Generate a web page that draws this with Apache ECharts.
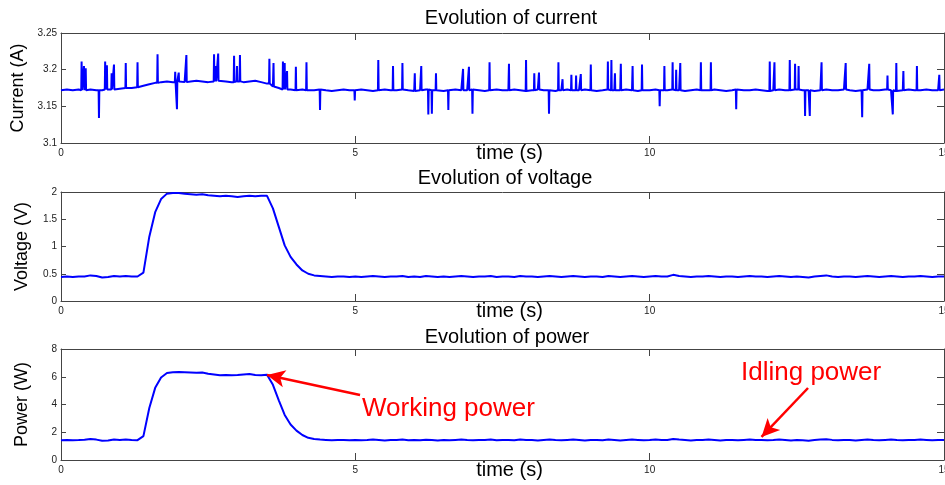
<!DOCTYPE html>
<html>
<head>
<meta charset="utf-8">
<script src="https://cdn.jsdelivr.net/npm/echarts@6/dist/echarts.min.js"></script>
<style>
  html, body { margin: 0; padding: 0; background: #fff; }
  #chart { width: 945px; height: 485px; }
</style>
</head>
<body>
<div id="chart"></div>
<script>
// sample grid, 0.1 s steps from 0 to 15 s
const time = Array.from({length: 151}, (_, i) => +(i / 10).toFixed(1));

// current baseline (A), one value per sample
const currentBase = [
  3.172,3.173,3.172,3.173,3.172,3.173,3.172,3.172,3.173,3.173,
  3.174,3.175,3.175,3.176,3.178,3.180,3.182,3.183,3.184,3.183,
  3.184,3.183,3.184,3.185,3.184,3.183,3.184,3.185,3.184,3.183,
  3.184,3.183,3.184,3.185,3.183,3.181,3.177,3.175,3.173,3.173,
  3.172,3.173,3.172,3.172,3.173,3.172,3.171,3.172,3.173,3.172,
  3.172,3.173,3.172,3.171,3.172,3.173,3.172,3.172,3.173,3.172,
  3.171,3.172,3.173,3.172,3.172,3.171,3.172,3.173,3.172,3.172,
  3.173,3.172,3.171,3.172,3.173,3.172,3.172,3.173,3.172,3.171,
  3.172,3.173,3.172,3.172,3.171,3.172,3.173,3.172,3.172,3.173,
  3.172,3.171,3.172,3.173,3.172,3.172,3.173,3.172,3.171,3.172,
  3.172,3.173,3.172,3.172,3.173,3.172,3.171,3.172,3.173,3.172,
  3.172,3.173,3.172,3.171,3.172,3.173,3.172,3.172,3.173,3.172,
  3.171,3.172,3.173,3.172,3.172,3.173,3.172,3.172,3.171,3.172,
  3.173,3.172,3.172,3.173,3.172,3.171,3.172,3.173,3.172,3.172,
  3.173,3.172,3.171,3.172,3.173,3.172,3.172,3.173,3.172,3.172,
  3.173
];

// narrow current spikes and dips: [time (s), extreme value (A)]
const currentSpikes = [
  [0.35,3.211],[0.39,3.205],[0.42,3.202],[0.645,3.134],[0.75,3.211],[0.78,3.206],
  [0.86,3.195],[0.90,3.207],[1.10,3.209],[1.30,3.210],[1.64,3.221],[1.94,3.197],
  [1.97,3.146],[2.00,3.196],[2.13,3.220],[2.60,3.221],[2.63,3.205],[2.67,3.222],
  [2.94,3.219],[2.99,3.205],[3.04,3.220],[3.54,3.215],[3.61,3.209],[3.77,3.211],
  [3.80,3.209],[3.84,3.198],[3.99,3.204],[4.17,3.210],[4.40,3.145],[4.99,3.158],
  [5.39,3.213],[5.64,3.205],[5.80,3.209],[6.01,3.195],[6.12,3.205],[6.24,3.139],
  [6.30,3.140],[6.37,3.195],[6.58,3.145],[6.83,3.201],[6.93,3.204],[6.99,3.140],
  [7.28,3.210],[7.61,3.208],[7.90,3.213],[8.04,3.195],[8.12,3.196],[8.29,3.140],
  [8.45,3.210],[8.52,3.187],[8.67,3.193],[8.75,3.192],[8.83,3.194],[9.00,3.207],
  [9.29,3.211],[9.35,3.213],[9.41,3.195],[9.51,3.208],[9.71,3.205],[9.87,3.207],
  [10.17,3.150],[10.25,3.205],[10.39,3.210],[10.45,3.200],[10.52,3.209],[10.87,3.210],
  [11.04,3.210],[11.47,3.146],[12.04,3.211],[12.12,3.210],[12.38,3.213],[12.47,3.208],
  [12.53,3.205],[12.64,3.137],[12.72,3.137],[12.92,3.210],[13.33,3.209],[13.61,3.135],
  [13.73,3.208],[14.04,3.192],[14.13,3.139],[14.19,3.209],[14.31,3.198],[14.54,3.205],
  [14.92,3.193]
];

// voltage (V)
const voltage = [
  0.44,0.45,0.44,0.45,0.45,0.47,0.46,0.43,0.44,0.46,
  0.45,0.46,0.45,0.45,0.52,1.18,1.63,1.87,1.97,1.98,
  1.98,1.97,1.96,1.95,1.96,1.94,1.93,1.92,1.93,1.92,
  1.91,1.92,1.93,1.92,1.93,1.93,1.70,1.36,1.02,0.81,
  0.67,0.56,0.50,0.47,0.46,0.45,0.44,0.45,0.45,0.44,
  0.45,0.44,0.45,0.46,0.45,0.44,0.45,0.45,0.46,0.44,
  0.45,0.44,0.46,0.45,0.44,0.45,0.44,0.45,0.46,0.45,
  0.44,0.45,0.45,0.46,0.44,0.45,0.45,0.44,0.46,0.45,
  0.45,0.44,0.45,0.46,0.45,0.44,0.45,0.46,0.45,0.44,
  0.45,0.45,0.44,0.46,0.45,0.44,0.45,0.46,0.45,0.44,
  0.45,0.46,0.45,0.45,0.48,0.46,0.45,0.44,0.45,0.45,
  0.46,0.45,0.44,0.45,0.45,0.44,0.45,0.46,0.45,0.45,
  0.44,0.45,0.46,0.45,0.44,0.45,0.44,0.43,0.45,0.46,
  0.47,0.45,0.44,0.45,0.45,0.44,0.45,0.46,0.45,0.44,
  0.45,0.46,0.45,0.44,0.45,0.45,0.46,0.45,0.44,0.45,
  0.45
];

// power (W)
const power = [
  1.42,1.45,1.43,1.44,1.46,1.52,1.47,1.38,1.40,1.47,
  1.45,1.48,1.45,1.43,1.72,3.75,5.20,5.95,6.27,6.33,
  6.34,6.32,6.30,6.28,6.30,6.22,6.16,6.10,6.12,6.10,
  6.12,6.17,6.20,6.12,6.10,6.15,5.42,4.30,3.25,2.56,
  2.12,1.80,1.60,1.52,1.47,1.45,1.43,1.45,1.44,1.42,
  1.45,1.42,1.44,1.47,1.44,1.41,1.44,1.45,1.47,1.42,
  1.45,1.42,1.46,1.44,1.41,1.45,1.43,1.45,1.47,1.44,
  1.42,1.45,1.44,1.47,1.42,1.45,1.44,1.42,1.47,1.45,
  1.44,1.41,1.45,1.47,1.44,1.42,1.45,1.47,1.44,1.41,
  1.45,1.44,1.42,1.47,1.45,1.41,1.44,1.47,1.45,1.42,
  1.44,1.47,1.45,1.44,1.52,1.47,1.44,1.41,1.44,1.45,
  1.47,1.44,1.41,1.45,1.44,1.42,1.45,1.47,1.44,1.45,
  1.42,1.44,1.47,1.45,1.41,1.44,1.42,1.39,1.44,1.47,
  1.50,1.45,1.42,1.44,1.45,1.41,1.44,1.47,1.44,1.42,
  1.45,1.47,1.44,1.42,1.45,1.44,1.47,1.45,1.42,1.44,
  1.45
];

// annotation arrows in data coordinates of the power panel: [tail, tip]
const workingArrow = [[5.08, 4.68], [3.50, 6.13]];
const idlingArrow = [[12.69, 5.19], [11.90, 1.66]];

const FONT = 'Liberation Sans, Arial, sans-serif';
const AXIS_COLOR = '#444';

// spikes are drawn as a rise from the local baseline and a drop back to it
const currentPoints = () => {
  const pts = time.map((t, i) => [t, currentBase[i]]);
  currentSpikes.forEach(([t, v]) => {
    const b = currentBase[Math.round(t * 10)];
    pts.push([t - 0.006, b], [t, v], [t + 0.006, b]);
  });
  return pts.sort((a, b) => a[0] - b[0]);
};

const fmt = v => String(Math.round(v * 100) / 100);

const makeX = (gridIndex) => [
  {
    type: 'value', gridIndex, min: 0, max: 15, interval: 5, position: 'bottom',
    axisLine: {onZero: false, lineStyle: {color: AXIS_COLOR}},
    axisTick: {inside: true, length: 7, lineStyle: {color: AXIS_COLOR}},
    axisLabel: {fontSize: 10, color: '#222', margin: 5, fontFamily: FONT},
    splitLine: {show: false},
    name: 'time (s)', nameLocation: 'middle', nameGap: 0, nameMoveOverlap: false,
    nameTextStyle: {fontSize: 20, color: '#000', fontFamily: FONT, verticalAlign: 'top', padding: [0, 0, 0, 14]}
  },
  {
    type: 'value', gridIndex, min: 0, max: 15, interval: 5, position: 'top',
    axisLine: {onZero: false, lineStyle: {color: AXIS_COLOR}},
    axisTick: {inside: true, length: 7, lineStyle: {color: AXIS_COLOR}},
    axisLabel: {show: false},
    splitLine: {show: false}
  }
];

const makeY = (gridIndex, name, min, max, interval, nameGap) => [
  {
    type: 'value', gridIndex, min, max, interval, position: 'left',
    name, nameLocation: 'middle', nameGap, nameRotate: 90, nameMoveOverlap: false,
    nameTextStyle: {fontSize: 18, color: '#000', fontFamily: FONT},
    axisLine: {show: true, onZero: false, lineStyle: {color: AXIS_COLOR}},
    axisTick: {show: true, inside: true, length: 5, lineStyle: {color: AXIS_COLOR}},
    axisLabel: {fontSize: 10, color: '#222', margin: 4, fontFamily: FONT, formatter: fmt},
    splitLine: {show: false}
  },
  {
    type: 'value', gridIndex, min, max, interval, position: 'right',
    axisLine: {show: true, onZero: false, lineStyle: {color: AXIS_COLOR}},
    axisTick: {show: true, inside: true, length: 7, lineStyle: {color: AXIS_COLOR}},
    axisLabel: {show: false},
    splitLine: {show: false}
  }
];

const lineSeries = (axisIndex, data, extra) => Object.assign({
  type: 'line', xAxisIndex: axisIndex, yAxisIndex: axisIndex,
  data, showSymbol: false, symbol: 'none',
  lineStyle: {color: '#0000ff', width: 2},
  itemStyle: {color: '#0000ff'}
}, extra || {});

const titleText = (text, x, y) => ({
  type: 'text', x, y,
  style: {text, fontSize: 20, fill: '#000', fontFamily: FONT, align: 'center', verticalAlign: 'middle'}
});

const redText = (text, x, y) => ({
  type: 'text', x, y,
  style: {text, fontSize: 26, fill: '#ff0000', fontFamily: FONT, align: 'left', verticalAlign: 'middle'}
});

const chart = echarts.init(document.getElementById('chart'));
chart.setOption({
  animation: false,
  backgroundColor: '#fff',
  grid: [
    {left: 61, right: 1, top: 33, height: 110, outerBoundsMode: 'none'},
    {left: 61, right: 1, top: 192, height: 109, outerBoundsMode: 'none'},
    {left: 61, right: 1, top: 349, height: 111, outerBoundsMode: 'none'}
  ],
  xAxis: [...makeX(0), ...makeX(1), ...makeX(2)],
  yAxis: [
    ...makeY(0, 'Current (A)', 3.1, 3.25, 0.05, 34),
    ...makeY(1, 'Voltage (V)', 0, 2, 0.5, 30),
    ...makeY(2, 'Power (W)', 0, 8, 2, 30)
  ],
  series: [
    lineSeries(0, currentPoints()),
    lineSeries(2, time.map((t, i) => [t, voltage[i]])),
    lineSeries(4, time.map((t, i) => [t, power[i]]), {
      markLine: {
        silent: true,
        symbol: ['none', 'arrow'],
        symbolSize: [13, 18],
        lineStyle: {color: '#ff0000', width: 2.5, type: 'solid'},
        label: {show: false},
        emphasis: {disabled: true},
        data: [
          [{coord: workingArrow[0]}, {coord: workingArrow[1]}],
          [{coord: idlingArrow[0]}, {coord: idlingArrow[1]}]
        ]
      }
    })
  ],
  graphic: [
    titleText('Evolution of current', 511, 18),
    titleText('Evolution of voltage', 505, 178),
    titleText('Evolution of power', 507, 337),
    redText('Working power', 362, 409),
    redText('Idling power', 741, 373)
  ]
});
</script>
</body>
</html>
